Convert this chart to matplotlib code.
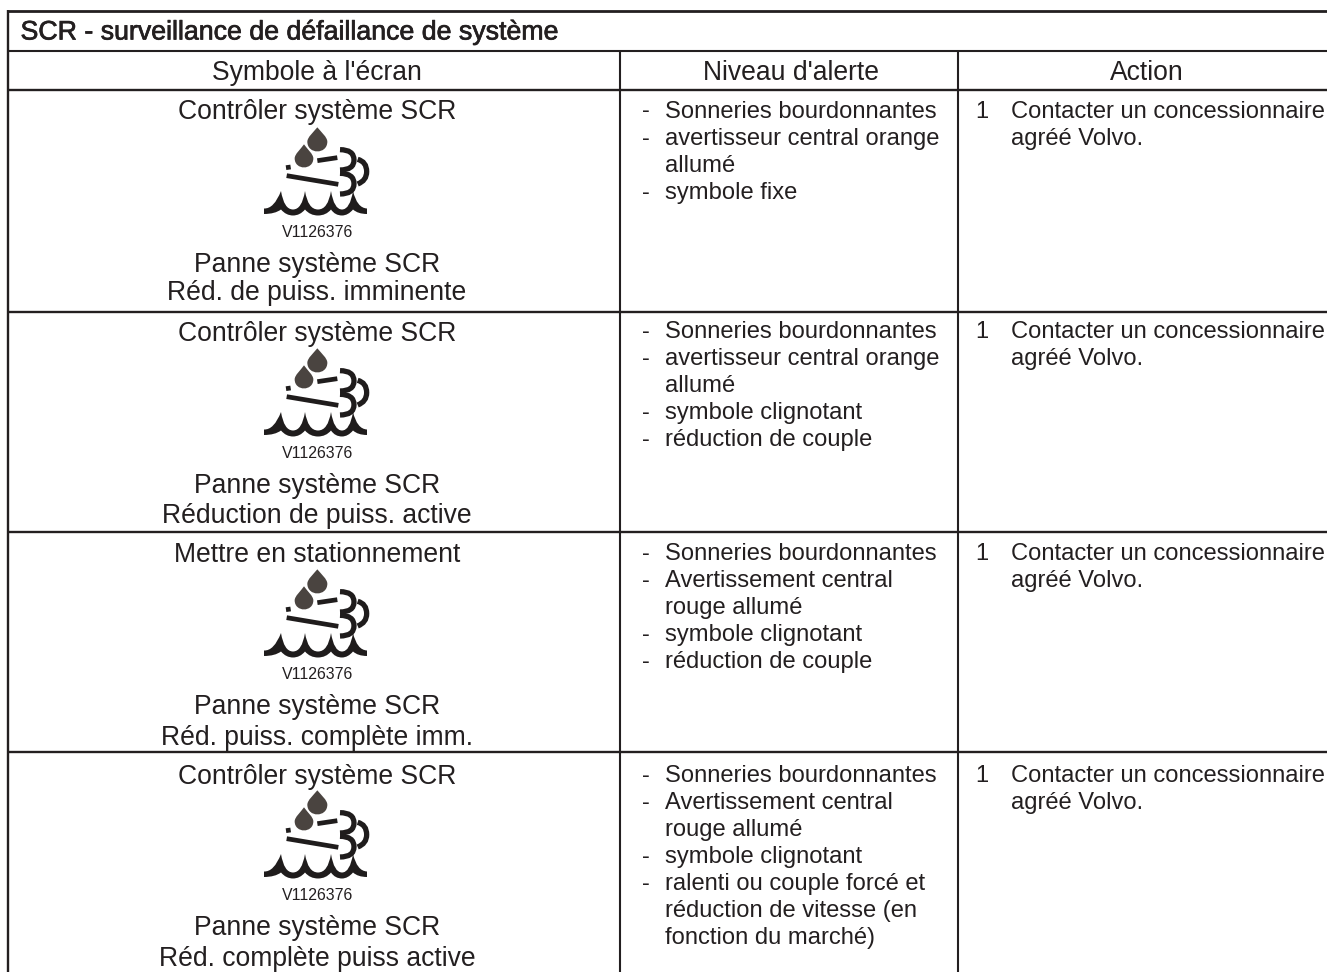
import matplotlib
matplotlib.use("Agg")
import matplotlib.pyplot as plt
from matplotlib.path import Path
from matplotlib.patches import PathPatch
import matplotlib.patheffects as pe

plt.rcParams['font.family'] = ['Liberation Sans', 'DejaVu Sans']

INK = '#231f20'
DROP = '#4a4440'

title = "SCR - surveillance de défaillance de système"
headers = ["Symbole à l'écran", "Niveau d'alerte", "Action"]
symbol_top = ["Contrôler système SCR", "Contrôler système SCR", "Mettre en stationnement", "Contrôler système SCR"]
symbol_code = "V1126376"
symbol_mid = ["Panne système SCR"] * 4
symbol_bottom = ["Réd. de puiss. imminente", "Réduction de puiss. active", "Réd. puiss. complète imm.", "Réd. complète puiss active"]
alerts = [
    [("-", "Sonneries bourdonnantes"), ("-", "avertisseur central orange"), ("", "allumé"), ("-", "symbole fixe")],
    [("-", "Sonneries bourdonnantes"), ("-", "avertisseur central orange"), ("", "allumé"), ("-", "symbole clignotant"), ("-", "réduction de couple")],
    [("-", "Sonneries bourdonnantes"), ("-", "Avertissement central"), ("", "rouge allumé"), ("-", "symbole clignotant"), ("-", "réduction de couple")],
    [("-", "Sonneries bourdonnantes"), ("-", "Avertissement central"), ("", "rouge allumé"), ("-", "symbole clignotant"),
     ("-", "ralenti ou couple forcé et"), ("", "réduction de vitesse (en"), ("", "fonction du marché)")],
]
action_num = "1"
action_lines = ["Contacter un concessionnaire", "agréé Volvo."]

row_lines = [312, 532, 752]
top_base = [119, 341, 562, 784]
code_base = [237, 458, 679, 900]
mid_base = [272, 493, 714, 935]
bot_base = [300, 523, 745, 966]
alert_base = [117.5, 337.5, 559.5, 781.5]
icon_dy = [0, 221, 442, 663]

fig = plt.figure(figsize=(13.27, 9.72), dpi=100)
ax = fig.add_axes([0, 0, 1, 1])
ax.set_xlim(0, 1327)
ax.set_ylim(972, 0)
ax.axis('off')

def hline(y, x0, x1, lw=1.5):
    ax.plot([x0, x1], [y, y], color=INK, lw=lw, solid_capstyle='butt')

def vline(x, y0, y1, lw=1.5):
    ax.plot([x, x], [y0, y1], color=INK, lw=lw, solid_capstyle='butt')

hline(11, 7, 1327, 2.0)
hline(51, 8, 1327, 1.5)
hline(90, 8, 1327, 1.7)
for y in row_lines:
    hline(y, 8, 1327, 1.7)
vline(8, 10, 972, 1.7)
vline(619.5, 51, 972, 1.5)
vline(958, 51, 972, 1.5)

FS_L = 19.1
FS_R = 17.1
def T(x, y, s, fs, ha='left', **kw):
    ax.text(x, y, s, fontsize=fs, color=INK, ha=ha, va='baseline', **kw)

T(20.5, 39.5, title, 19.25, path_effects=[pe.withStroke(linewidth=0.5, foreground=INK)])
for x, s in zip([317, 791, 1147], headers):
    T(x, 79.5, s, FS_L, ha='center')

for i in range(4):
    T(317, top_base[i], symbol_top[i], FS_L, ha='center')
    T(318, code_base[i], symbol_code, 11.4, ha='center')
    T(317, mid_base[i], symbol_mid[i], FS_L, ha='center')
    T(317, bot_base[i], symbol_bottom[i], FS_L, ha='center')
    for j, (d, s) in enumerate(alerts[i]):
        y = alert_base[i] + j * 27
        if d:
            T(642, y, d, FS_R)
        T(665, y, s, FS_R)
    T(975, alert_base[i], action_num, FS_R)
    for j, s in enumerate(action_lines):
        T(1011, alert_base[i] + j * 27, s, FS_R)

def icon(dy):
    def P(x, y):
        return (230 + x / 3, 90 + y / 3 + dy)
    def Q(x, y):
        return (x, y + dy)
    M, L, C3, C4, Z = Path.MOVETO, Path.LINETO, Path.CURVE3, Path.CURVE4, Path.CLOSEPOLY
    def drop(cx, top, cy, r):
        v = [P(cx, top), P(cx + r * .35, cy - r * 1.0), P(cx + r, cy - r * .45), P(cx + r, cy),
             P(cx + r, cy + r * 1.3), P(cx - r, cy + r * 1.3), P(cx - r, cy),
             P(cx - r, cy - r * .45), P(cx - r * .35, cy - r * 1.0), P(cx, top), P(cx, top)]
        c = [M, C4, C4, C4, C4, C4, C4, C4, C4, C4, Z]
        ax.add_patch(PathPatch(Path(v, c), fc=DROP, ec='none'))
    drop(262, 112, 155, 30)
    drop(222, 163, 205, 28)
    def stroke(pts, codes, lw=3.4, cap='butt'):
        ax.add_patch(PathPatch(Path([P(*p) for p in pts], codes), fc='none', ec='#1f1c1c', lw=lw, capstyle=cap))
    stroke([(262, 212), (322, 203)], [M, L])
    stroke([(168, 233), (182, 231)], [M, L])
    stroke([(170, 257), (325, 283)], [M, L])
    stroke([(330, 179), (372, 179), (372, 210), (372, 240), (330, 240)], [M, C3, C3, C3, C3], lw=3.8)
    stroke([(330, 250), (372, 250), (372, 281), (372, 312), (330, 312)], [M, C3, C3, C3, C3], lw=3.8)
    stroke([(383, 208), (410, 215), (410, 245), (410, 272), (383, 282)], [M, C3, C3, C3, C3], lw=3.8)
    v = [Q(264, 208.5),
         Q(274, 209), Q(281, 191), Q(284, 209.5), Q(293, 209.5),
         Q(302, 209.5), Q(305, 191), Q(308, 209.5), Q(318, 209.5),
         Q(328, 209.5), Q(331, 191), Q(334, 209.5), Q(342, 209.5),
         Q(350, 209.5), Q(353, 191), Q(357, 208), Q(367, 208.5),
         Q(367, 214),
         Q(358, 214), Q(353, 209.5), Q(348, 215.5), Q(342, 215.5),
         Q(335, 215.5), Q(331, 209.5), Q(326, 215.5), Q(318, 215.5),
         Q(310, 215.5), Q(305, 209.5), Q(300, 215.5), Q(293, 215.5),
         Q(286, 215.5), Q(281, 209.5), Q(275, 214), Q(264, 214),
         Q(264, 208.5)]
    c = [M] + [C3] * 16 + [L] + [C3] * 16 + [Z]
    ax.add_patch(PathPatch(Path(v, c), fc='#1f1c1c', ec='none'))

for dy in icon_dy:
    icon(dy)

fig.savefig('out.png', dpi=100, facecolor='white')
